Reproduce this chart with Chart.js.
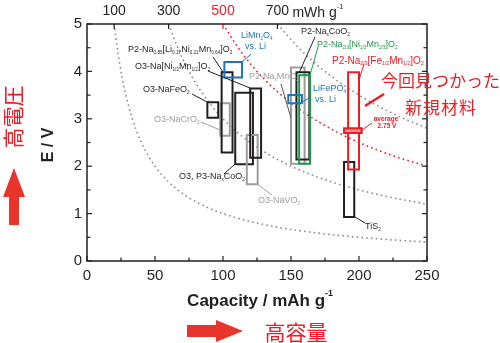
<!DOCTYPE html>
<html lang="ja">
<head>
<meta charset="UTF-8">
<title>E vs Capacity</title>
<script src="https://cdn.jsdelivr.net/npm/chart.js"></script>
<style>
  body { margin: 0; background: #fff; }
  #wrap { width: 500px; height: 343px; }
</style>
</head>
<body>
<div id="wrap"><canvas id="chart" width="500" height="343"></canvas></div>
<script>
// iso-energy lines, mWh g-1 (energy = capacity x voltage)
const energyLevels = [100, 300, 500, 700];
const curveCapacity = [20, 22, 24, 26, 28, 30, 33, 36, 40, 45, 50, 55, 60, 66, 72, 80, 90, 100,
                       110, 120, 130, 140, 155, 170, 185, 200, 215, 230, 250];

// materials: capacity range (mAh g-1) and voltage range (V)
const materials = ['LiMn2O4', 'LiFePO4', 'average 2.75 V', 'P2-Na2/3[Fe1/2Mn1/2]O2', 'TiS2',
                   'P2-Na2/3[Ni1/3Mn2/3]O2', 'P2-NaxCoO2', 'P2-NaxMnO2', 'O3-Na[Ni1/2Mn1/2]O2',
                   'O3-NaVO2', 'O3, P3-NaxCoO2', 'P2-Na0.85[Li0.17Ni0.21Mn0.64]O2', 'O3-NaCrO2', 'O3-NaFeO2'];
const capMin  = [101, 148, 189, 192, 189, 156, 154, 150, 120, 117.5, 109, 99, 98, 88.5];
const capMax  = [114, 158, 202, 200, 196.5, 164, 163.5, 160, 128, 125.5, 122, 107, 105, 96.5];
const voltMin = [3.87, 3.33, 2.70, 1.93, 0.93, 2.05, 2.14, 2.05, 2.18, 1.62, 2.04, 2.29, 2.64, 3.02];
const voltMax = [4.20, 3.50, 2.80, 3.98, 2.09, 3.92, 3.98, 4.08, 3.64, 2.66, 3.55, 3.98, 3.33, 3.35];

const K = '#231f20', G = '#9d9d9d', B = '#1b75bc', GR = '#1a9a48', R = '#ed1c24';
const boxColor = [B, B, R, R, K, GR, K, G, K, G, K, K, G, K];
const boxFill  = [null, null, '#f28b8b', null, null, null, null, null, null, null, null, null, null, null];

const FONT = "'Liberation Sans', Arial, sans-serif";
const JP = "'Noto Sans CJK JP', sans-serif";

const boxSets = materials.map((name, i) => {
  const p = [
    {x: capMin[i], y: voltMin[i]}, {x: capMax[i], y: voltMin[i]},
    {x: capMax[i], y: voltMax[i]}, {x: capMin[i], y: voltMax[i]}
  ];
  return {
    label: name,
    data: [...p, p[0], p[1]],
    showLine: true,
    borderColor: boxColor[i],
    borderWidth: 2,
    pointRadius: 0,
    tension: 0,
    borderJoinStyle: 'miter',
    fill: boxFill[i] ? 'shape' : false,
    backgroundColor: boxFill[i] || 'transparent'
  };
});

const curveSets = energyLevels.map(e => ({
  label: e + ' mWh/g',
  data: curveCapacity.filter(c => c >= e / 5).map(c => ({x: c, y: e / c})),
  showLine: true,
  borderColor: e === 500 ? R : '#8c8c8c',
  borderWidth: 1.6,
  borderDash: [1.6, 3.2],
  pointRadius: 0,
  cubicInterpolationMode: 'monotone',
  fill: false
}));

// text annotations (pixel positions)
const notes = [
  ['P2-Na_{0.85}[Li_{0.17}Ni_{0.21}Mn_{0.64}]O_{2}', 128, 50, K, 9],
  ['O3-Na[Ni_{1/2}Mn_{1/2}]O_{2}', 135, 67, K, 9],
  ['O3-NaFeO_{2}', 143, 90, K, 9],
  ['O3-NaCrO_{2}', 154, 120, G, 9],
  ['O3, P3-Na_{x}CoO_{2}', 179, 177, K, 9],
  ['O3-NaVO_{2}', 258, 201, G, 9],
  ['LiMn_{2}O_{4}', 241, 36, B, 9],
  ['vs. Li', 245, 47, B, 9],
  ['P2-Na_{x}MnO_{2}', 249, 77, G, 9],
  ['P2-Na_{x}CoO_{2}', 301, 32, K, 9],
  ['P2-Na_{2/3}[Ni_{1/3}Mn_{2/3}]O_{2}', 317, 45, GR, 9],
  ['P2-Na_{2/3}[Fe_{1/2}Mn_{1/2}]O_{2}', 332, 61, R, 10],
  ['LiFePO_{4}', 313, 89, B, 9],
  ['vs. Li', 315, 100, B, 9],
  ['TiS_{2}', 365, 227, K, 9]
];
const leaders = [
  [213, 57, 223, 72, K], [208, 71, 250, 88, K], [192, 94, 207, 102, K],
  [201, 122, 220, 130, G], [224, 174, 235, 164, K], [257, 184, 272, 195, G],
  [241, 63, 251, 54, B], [281, 84, 291, 118, '#555'], [315, 37, 299, 73, K],
  [318, 47, 310, 75, GR], [364, 64, 359, 80, R], [302, 102, 311, 97, B],
  [362, 130, 372, 123, R], [355, 217, 365, 223, K]
];

function richText(ctx, str, x, y, size, color, weight, align) {
  const re = /([_^])\{([^}]*)\}|([^_^]+)/g;
  const parts = [];
  let m;
  while ((m = re.exec(str))) {
    if (m[3]) parts.push({t: m[3], s: size, dy: 0});
    else parts.push({t: m[2], s: size * 0.52, dy: m[1] === '_' ? size * 0.3 : -size * 0.42});
  }
  let w = 0;
  parts.forEach(p => { ctx.font = `${weight} ${p.s}px ${FONT}`; p.w = ctx.measureText(p.t).width; w += p.w; });
  let cx = align === 'center' ? x - w / 2 : x;
  ctx.fillStyle = color;
  ctx.textBaseline = 'middle';
  ctx.textAlign = 'left';
  parts.forEach(p => {
    ctx.font = `${weight} ${p.s}px ${FONT}`;
    ctx.fillText(p.t, cx, y + p.dy);
    cx += p.w;
  });
}

const decor = {
  id: 'decor',
  afterDatasetsDraw(chart) {
    const ctx = chart.ctx;
    const {left, right, top, bottom} = chart.chartArea;
    const xs = chart.scales.x, ys = chart.scales.y, xt = chart.scales.x2;
    ctx.save();

    // frame
    ctx.strokeStyle = K;
    ctx.lineWidth = 1.5;
    ctx.strokeRect(left, top, right - left, bottom - top);

    // inward ticks
    ctx.lineWidth = 1.2;
    xs.ticks.forEach(t => {
      const px = xs.getPixelForValue(t.value);
      const len = t.value % 50 === 0 ? 5 : 3.5;
      ctx.beginPath(); ctx.moveTo(px, bottom); ctx.lineTo(px, bottom - len); ctx.stroke();
    });
    ys.ticks.forEach(t => {
      const py = ys.getPixelForValue(t.value);
      const len = Number.isInteger(t.value) ? 5 : 3.5;
      ctx.beginPath(); ctx.moveTo(left, py); ctx.lineTo(left + len, py); ctx.stroke();
      ctx.beginPath(); ctx.moveTo(right, py); ctx.lineTo(right - len, py); ctx.stroke();
    });
    xt.ticks.forEach((t, i) => {
      const px = xt.getPixelForValue(t.value);
      ctx.strokeStyle = energyLevels[i] === 500 ? R : K;
      ctx.beginPath(); ctx.moveTo(px, top); ctx.lineTo(px, top + 5); ctx.stroke();
    });

    // unit for top axis
    const p700 = xt.getPixelForValue(energyLevels[3] / 5);
    richText(ctx, 'mWh g^{-1}', p700 + 15, 13, 14, K, 'normal', 'left');

    // leader lines
    ctx.lineWidth = 1;
    leaders.forEach(([x1, y1, x2, y2, c]) => {
      ctx.strokeStyle = c;
      ctx.beginPath(); ctx.moveTo(x1, y1); ctx.lineTo(x2, y2); ctx.stroke();
    });

    // labels
    notes.forEach(([t, x, y, c, s]) => richText(ctx, t, x, y, s, c, 'normal', 'left'));
    richText(ctx, 'average', 386, 119, 6.5, R, 'bold', 'center');
    richText(ctx, '2.75 V', 387, 126, 6.5, R, 'bold', 'center');

    // new material note
    ctx.strokeStyle = R;
    ctx.lineWidth = 2.5;
    ctx.beginPath(); ctx.moveTo(365, 106); ctx.lineTo(384, 94); ctx.stroke();
    ctx.fillStyle = R;
    ctx.font = `17px ${JP}`;
    ctx.textBaseline = 'middle';
    ctx.textAlign = 'left';
    ctx.fillText('今回見つかった', 381, 81);
    ctx.letterSpacing = '1px';
    ctx.fillText('新規材料', 405, 108);
    ctx.letterSpacing = '0px';

    // axis titles
    ctx.save();
    ctx.translate(49, 145);
    ctx.rotate(-Math.PI / 2);
    ctx.fillStyle = K;
    ctx.font = `bold 16px ${FONT}`;
    ctx.textAlign = 'center';
    ctx.fillText('E / V', 0, 0);
    ctx.restore();
    richText(ctx, 'Capacity / mAh g^{-1}', 260, 301, 17, K, 'bold', 'center');

    // red arrows and captions
    ctx.fillStyle = '#e8342a';
    ctx.beginPath();
    ctx.moveTo(14, 168); ctx.lineTo(25, 197); ctx.lineTo(19, 197); ctx.lineTo(19, 225);
    ctx.lineTo(9, 225); ctx.lineTo(9, 197); ctx.lineTo(3, 197); ctx.closePath(); ctx.fill();
    ctx.beginPath();
    ctx.moveTo(243, 331); ctx.lineTo(216, 320); ctx.lineTo(216, 325); ctx.lineTo(187, 325);
    ctx.lineTo(187, 337); ctx.lineTo(216, 337); ctx.lineTo(216, 342); ctx.closePath(); ctx.fill();

    ctx.fillStyle = R;
    ctx.font = `21px ${JP}`;
    ctx.textAlign = 'center';
    ctx.fillText('高容量', 296, 332);
    ctx.save();
    ctx.translate(13, 117);
    ctx.rotate(-Math.PI / 2);
    ctx.fillText('高電圧', 0, 0);
    ctx.restore();

    ctx.restore();
  }
};

new Chart(document.getElementById('chart'), {
  type: 'scatter',
  data: { datasets: [...boxSets, ...curveSets] },
  options: {
    responsive: false,
    animation: false,
    layout: { padding: { left: 0, right: 73, top: 0, bottom: 0 } },
    plugins: { legend: { display: false }, tooltip: { enabled: false } },
    scales: {
      x: {
        type: 'linear', position: 'bottom', min: 0, max: 250,
        grid: { display: false, drawTicks: false },
        border: { display: false },
        ticks: {
          stepSize: 25, padding: 6, color: K, maxRotation: 0, autoSkip: false,
          font: { family: FONT, size: 15 },
          callback: v => (v % 50 === 0 ? v : '')
        },
        afterFit: s => { s.height = 82; }
      },
      x2: {
        type: 'linear', position: 'top', min: 0, max: 250,
        grid: { display: false, drawTicks: false },
        border: { display: false },
        afterBuildTicks: s => { s.ticks = energyLevels.map(e => ({ value: e / 5 })); },
        ticks: {
          padding: 4, maxRotation: 0, autoSkip: false,
          font: { family: FONT, size: 14 },
          color: c => (energyLevels[c.index] === 500 ? R : K),
          callback: (v, i) => energyLevels[i]
        },
        afterFit: s => { s.height = 24; }
      },
      y: {
        type: 'linear', position: 'left', min: 0, max: 5,
        grid: { display: false, drawTicks: false },
        border: { display: false },
        ticks: {
          stepSize: 0.5, padding: 5, color: K, autoSkip: false,
          font: { family: FONT, size: 15 },
          callback: v => (Number.isInteger(v) ? v : '')
        },
        afterFit: s => { s.width = 87; }
      }
    }
  },
  plugins: [decor]
});
</script>
</body>
</html>
